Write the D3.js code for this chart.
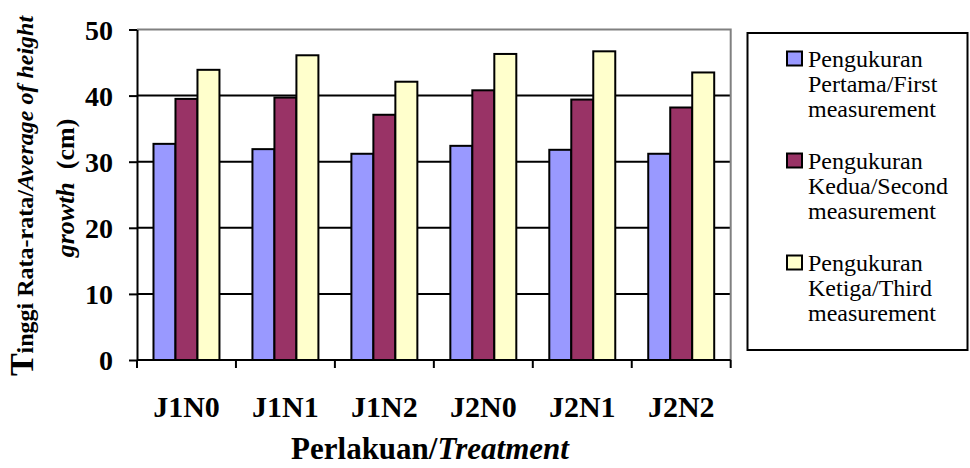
<!DOCTYPE html>
<html>
<head>
<meta charset="utf-8">
<script src="https://cdn.jsdelivr.net/npm/d3@7"></script>
<style>
  html, body { margin: 0; padding: 0; background: #fff; }
  svg { display: block; }
  text { font-family: "Liberation Serif", "Times New Roman", serif; fill: #000; }
</style>
</head>
<body>
<svg id="chart" width="970" height="468"></svg>
<script>
// Treatments along the x axis
const categories = ["J1N0", "J1N1", "J1N2", "J2N0", "J2N1", "J2N2"];

// Average height growth (cm) for each measurement
const firstMeasurement  = [32.7, 31.9, 31.2, 32.4, 31.8, 31.2];
const secondMeasurement = [39.5, 39.7, 37.1, 40.8, 39.4, 38.2];
const thirdMeasurement  = [43.9, 46.1, 42.1, 46.3, 46.7, 43.5];

const seriesKeys = ["first", "second", "third"];
const seriesLabels = [
  ["Pengukuran", "Pertama/First", "measurement"],
  ["Pengukuran", "Kedua/Second", "measurement"],
  ["Pengukuran", "Ketiga/Third", "measurement"]
];
const seriesColors = ["#9999FF", "#993366", "#FFFFCC"];

const yTicks = [0, 10, 20, 30, 40, 50];

const seriesValues = [firstMeasurement, secondMeasurement, thirdMeasurement];

const svg = d3.select("#chart");

const plot = { left: 137, right: 730.7, top: 29.5, bottom: 360 };

const x0 = d3.scaleBand()
  .domain(categories)
  .range([plot.left, plot.right])
  .paddingInner(0)
  .paddingOuter(0);

const x1 = d3.scaleBand()
  .domain(seriesKeys)
  .range([0, x0.bandwidth()])
  .paddingInner(0)
  .paddingOuter(0.75);

const y = d3.scaleLinear().domain([0, 50]).range([plot.bottom, plot.top]);
const color = d3.scaleOrdinal().domain(seriesKeys).range(seriesColors);

// Horizontal gridlines
svg.append("g")
  .selectAll("line")
  .data(yTicks.filter(t => t > 0 && t < 50))
  .join("line")
  .attr("x1", plot.left).attr("x2", plot.right)
  .attr("y1", d => y(d)).attr("y2", d => y(d))
  .attr("stroke", "#000").attr("stroke-width", 2);

// Plot area border (top and right)
svg.append("path")
  .attr("d", `M${plot.left},${y(50)}H${plot.right}V${plot.bottom}`)
  .attr("fill", "none").attr("stroke", "#808080").attr("stroke-width", 2);

// Bars
const rows = categories.map((c, i) => ({
  cat: c,
  vals: seriesKeys.map((k, j) => ({ key: k, value: seriesValues[j][i] }))
}));

svg.append("g")
  .selectAll("g")
  .data(rows)
  .join("g")
  .attr("transform", d => `translate(${x0(d.cat)},0)`)
  .selectAll("rect")
  .data(d => d.vals)
  .join("rect")
  .attr("x", d => x1(d.key))
  .attr("width", x1.bandwidth())
  .attr("y", d => y(d.value))
  .attr("height", d => y(0) - y(d.value))
  .attr("fill", d => color(d.key))
  .attr("stroke", "#000")
  .attr("stroke-width", 2);

// Y axis
const yAxis = svg.append("g")
  .attr("transform", `translate(${plot.left},0)`)
  .call(d3.axisLeft(y).tickValues(yTicks).tickSize(8).tickSizeOuter(0).tickPadding(16));
yAxis.select(".domain").attr("stroke", "#000").attr("stroke-width", 2);
yAxis.selectAll(".tick line").attr("stroke", "#000").attr("stroke-width", 2);
yAxis.selectAll(".tick text")
  .attr("font-size", 28).attr("font-weight", "bold").attr("dy", "0.34em");

// X axis: ticks at category boundaries
const boundaries = categories.map(c => x0(c)).concat([plot.right]);
svg.append("line")
  .attr("x1", plot.left).attr("x2", plot.right)
  .attr("y1", plot.bottom).attr("y2", plot.bottom)
  .attr("stroke", "#000").attr("stroke-width", 2);
svg.append("g")
  .selectAll("line")
  .data(boundaries)
  .join("line")
  .attr("x1", d => d).attr("x2", d => d)
  .attr("y1", plot.bottom).attr("y2", plot.bottom + 8)
  .attr("stroke", "#000").attr("stroke-width", 2);
svg.append("g")
  .selectAll("text")
  .data(categories)
  .join("text")
  .attr("x", d => x0(d) + x0.bandwidth() / 2)
  .attr("y", 417)
  .attr("text-anchor", "middle")
  .attr("font-size", 30).attr("font-weight", "bold")
  .text(d => d);

// X axis title
const xTitle = svg.append("text")
  .attr("x", 430).attr("y", 459)
  .attr("text-anchor", "middle")
  .attr("font-size", 31).attr("font-weight", "bold");
xTitle.append("tspan").text("Perlakuan/");
xTitle.append("tspan").attr("font-style", "italic").text("Treatment");

// Y axis title (two lines, rotated)
const yt1 = svg.append("text")
  .attr("transform", "translate(33,196) rotate(-90)")
  .attr("text-anchor", "middle")
  .attr("font-size", 24).attr("font-weight", "bold");
yt1.append("tspan").attr("font-size", 34).text("T");
yt1.append("tspan").text("inggi Rata-rata/");
yt1.append("tspan").attr("font-style", "italic").text("Average of height");

const yt2 = svg.append("text")
  .attr("transform", "translate(74,188) rotate(-90)")
  .attr("text-anchor", "middle")
  .attr("font-size", 26).attr("font-weight", "bold");
yt2.append("tspan").attr("font-style", "italic").text("growth");
yt2.append("tspan").text("\u00a0 (cm)");

// Legend
const legend = svg.append("g");
legend.append("rect")
  .attr("x", 747.5).attr("y", 33).attr("width", 220).attr("height", 317)
  .attr("fill", "#fff").attr("stroke", "#000").attr("stroke-width", 2);

const items = legend.selectAll("g.item")
  .data(seriesKeys)
  .join("g")
  .attr("class", "item")
  .attr("transform", (d, i) => `translate(0,${i * 102})`);

items.append("rect")
  .attr("x", 787).attr("y", 51.5).attr("width", 15).attr("height", 14)
  .attr("fill", d => color(d)).attr("stroke", "#000").attr("stroke-width", 2);

items.append("text")
  .attr("x", 808).attr("y", 66.7)
  .attr("font-size", 24)
  .selectAll("tspan")
  .data((d, i) => seriesLabels[i])
  .join("tspan")
  .attr("x", 808)
  .attr("dy", (d, i) => i === 0 ? 0 : 25)
  .text(d => d);
</script>
</body>
</html>
